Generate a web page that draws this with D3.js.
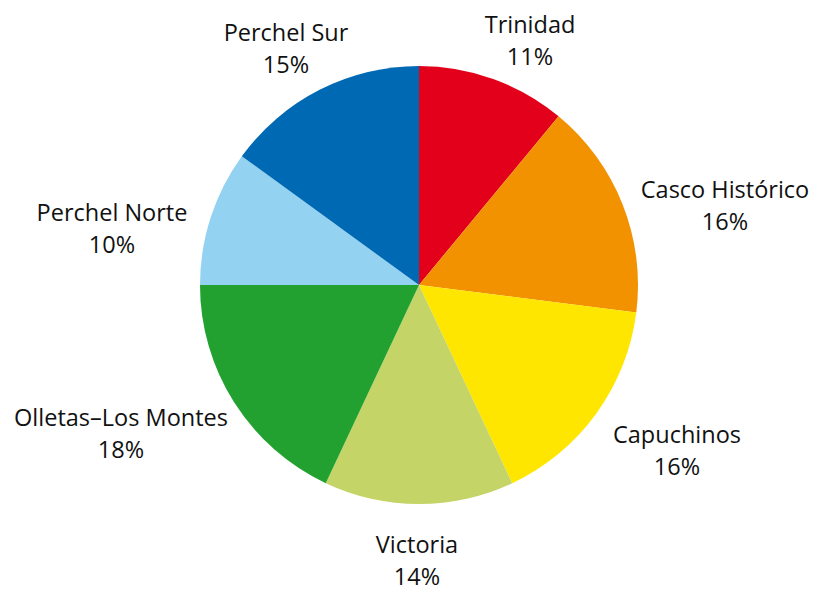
<!DOCTYPE html>
<html>
<head>
<meta charset="utf-8">
<script src="https://cdn.jsdelivr.net/npm/d3@7"></script>
<style>
  html, body { margin: 0; padding: 0; background: #ffffff; }
  svg { display: block; }
  text { font-family: "Open Sans", "Noto Sans", sans-serif; font-weight: 400; fill: #111111; }
</style>
</head>
<body>
<svg id="chart" width="819" height="592"></svg>
<script>
// ---- data ----
const categories = ["Trinidad", "Casco Histórico", "Capuchinos", "Victoria", "Olletas–Los Montes", "Perchel Norte", "Perchel Sur"];
const values = [11, 16, 16, 14, 18, 10, 15];
const percentLabels = ["11%", "16%", "16%", "14%", "18%", "10%", "15%"];

// ---- styles / layout (kept separate from data) ----
const colors = ["#e2001a", "#f39200", "#ffe600", "#c5d467", "#22a131", "#93d3f1", "#0069b4"];
// label anchor: text centre x and first baseline, relative to pie centre
const labelOffsets = [[111, -252], [306, -87], [258, 158], [-2, 268], [-298, 141], [-307, -64], [-133, -244]];

const W = 819, H = 592;
const cx = 419, cy = 285, R = 219;

const svg = d3.select("#chart");
const g = svg.append("g").attr("transform", `translate(${cx},${cy})`);

const data = categories.map((c, i) => ({ name: c, value: values[i], pct: percentLabels[i], color: colors[i], off: labelOffsets[i] }));

const pie = d3.pie().value(d => d.value).sort(null).startAngle(0).endAngle(2 * Math.PI);
const arc = d3.arc().innerRadius(0).outerRadius(R);

g.selectAll("path.slice")
  .data(pie(data))
  .join("path")
  .attr("class", "slice")
  .attr("d", arc)
  .attr("fill", d => d.data.color);

const fontSize = 23.5;
const lineGap = 32;
const lbl = g.selectAll("g.lbl")
  .data(pie(data))
  .join("g")
  .attr("class", "lbl")
  .attr("transform", d => `translate(${d.data.off[0]},${d.data.off[1]})`);

lbl.append("text")
  .attr("text-anchor", "middle")
  .attr("font-size", fontSize)
  .text(d => d.data.name);
lbl.append("text")
  .attr("text-anchor", "middle")
  .attr("y", lineGap)
  .attr("font-size", fontSize)
  .text(d => d.data.pct);
</script>
</body>
</html>
